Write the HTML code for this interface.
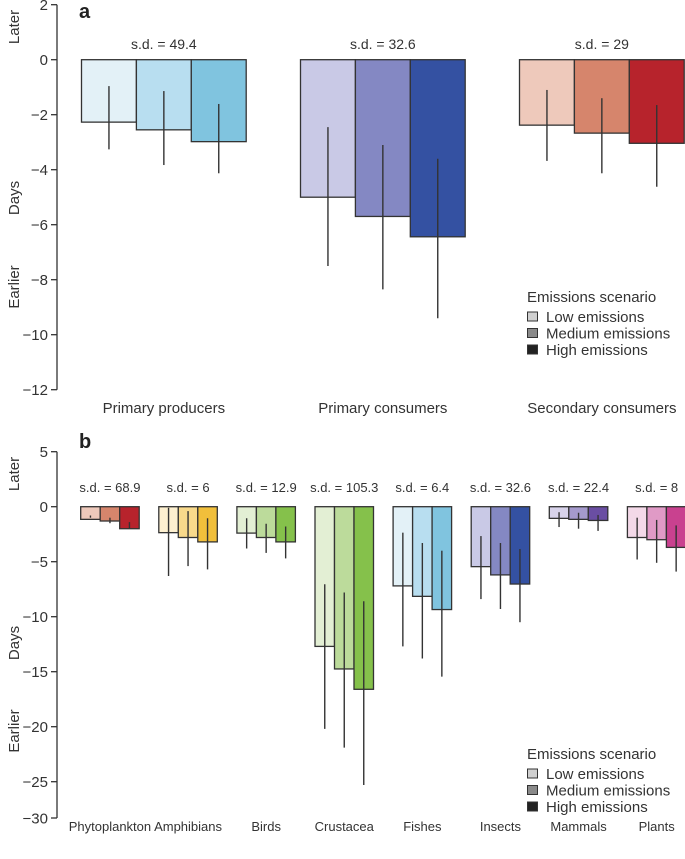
<!DOCTYPE html>
<html><head><meta charset="utf-8"><style>
html,body{margin:0;padding:0;background:#fff;}
svg{display:block;font-family:"Liberation Sans",Arial,sans-serif;}
</style></head><body>
<svg id="chart" width="685" height="859" viewBox="0 0 685 859"></svg>
<script>
// ---- Panel a data ----
const aCategories = ["Primary producers","Primary consumers","Secondary consumers"];
const aSd = ["s.d. = 49.4","s.d. = 32.6","s.d. = 29"];
const aLow = [-2.27,-5.0,-2.38];
const aMed = [-2.55,-5.7,-2.67];
const aHigh = [-2.98,-6.44,-3.04];
const aErrTop = [[-0.96,-1.14,-1.61],[-2.45,-3.1,-3.6],[-1.1,-1.4,-1.65]];
const aErrBot = [[-3.26,-3.83,-4.13],[-7.5,-8.35,-9.4],[-3.68,-4.13,-4.62]];
const aTicks = [2,0,-2,-4,-6,-8,-10,-12];
const aTickLabels = ["2","0","\u22122","\u22124","\u22126","\u22128","\u221210","\u221212"];
const aColors = [["#e3f1f7","#b8def0","#80c4df"],["#c9c9e6","#8488c3","#3451a2"],["#eec9bb","#d6856c","#b7232c"]];

// ---- Panel b data ----
const bCategories = ["Phytoplankton","Amphibians","Birds","Crustacea","Fishes","Insects","Mammals","Plants"];
const bSd = ["s.d. = 68.9","s.d. = 6","s.d. = 12.9","s.d. = 105.3","s.d. = 6.4","s.d. = 32.6","s.d. = 22.4","s.d. = 8"];
const bLow = [-1.15,-2.36,-2.4,-12.7,-7.2,-5.45,-1.06,-2.8];
const bMed = [-1.3,-2.8,-2.8,-14.75,-8.15,-6.2,-1.15,-3.0];
const bHigh = [-2.0,-3.2,-3.2,-16.6,-9.35,-7.03,-1.25,-3.7];
const bErrTop = [[-0.8,-1.0,-1.4],[-0.1,-0.4,-1.05],[-1.05,-1.55,-1.8],[-7.05,-7.8,-8.6],[-2.36,-3.3,-4.0],[-2.67,-3.3,-3.85],[-0.5,-0.55,-0.75],[-1.0,-1.2,-1.7]];
const bErrBot = [[-1.0,-1.5,-2.0],[-6.3,-5.4,-5.7],[-3.8,-4.2,-4.7],[-20.2,-21.9,-25.3],[-12.7,-13.8,-15.45],[-8.4,-9.3,-10.5],[-1.85,-2.0,-2.2],[-4.8,-5.1,-5.9]];
const bTicks = [5,0,-5,-10,-15,-20,-25,-28.3];
const bTickLabels = ["5","0","\u22125","\u221210","\u221215","\u221220","\u221225","\u221230"];
const bColors = [["#eec9bb","#d6856c","#b7232c"],["#fdf0d0","#f8d98b","#f1bf3b"],["#e3efd4","#bcdb9b","#85c14b"],["#e3efd4","#bcdb9b","#85c14b"],["#e3f1f7","#b8def0","#80c4df"],["#c9c9e6","#8488c3","#3451a2"],["#d7d2ea","#a59acd","#6a4ea3"],["#f3d9e8","#e09ac6","#c9418f"]];

const NS="http://www.w3.org/2000/svg";
const svg=document.getElementById('chart');
function mk(tag,attrs,parent,text){const e=document.createElementNS(NS,tag);for(const k in attrs)e.setAttribute(k,attrs[k]);if(text!==undefined)e.textContent=text;(parent||svg).appendChild(e);return e;}

function panel(o){
  const g=mk('g',{});
  
  
  const y=v=>o.y0-v*o.ppu;
  // axis
  const ax=mk('line',{x1:o.axX,x2:o.axX,y1:y(o.ticks[0]),y2:y(o.ticks[o.ticks.length-1]),stroke:'#333','stroke-width':1.3},g);
  
  
  o.ticks.forEach((t,i)=>{
    mk('line',{x1:o.axX-6,x2:o.axX,y1:y(t),y2:y(t),stroke:'#333','stroke-width':1.3},g);
    const tl=mk('text',{x:o.axX-9,y:y(t)+5.5,'text-anchor':'end','font-size':15,fill:'#333'},g,o.tickLabels[i]);
    
    
  });
  // side labels
  [['Later',o.laterY],['Days',o.daysY],['Earlier',o.earlierY]].forEach(([s,yy])=>{
    const t=mk('text',{x:0,y:0,transform:`translate(${o.sideX},${yy}) rotate(-90)`,'text-anchor':'middle','font-size':15,fill:'#333'},g,s);
    
    
  });
  const pl=mk('text',{x:o.axX+22,y:o.letterY,'font-size':20,'font-weight':'bold',fill:'#222'},g,o.letter);
  
  
  o.cats.forEach((c,i)=>{
    const gx=o.x0+i*o.step;
    const vals=[o.low[i],o.med[i],o.high[i]];
    vals.forEach((v,j)=>{
      const bx=gx+j*o.bw;
      const r=mk('rect',{x:bx,y:y(0),width:o.bw,height:y(v)-y(0),fill:o.colors[i][j],stroke:'#333','stroke-width':1.3},g);
      
      
    });
    vals.forEach((v,j)=>{
      const cx=gx+(j+0.5)*o.bw;
      const e=mk('line',{x1:cx,x2:cx,y1:y(o.et[i][j]),y2:y(o.eb[i][j]),stroke:'#333','stroke-width':1.4},g);
      
      
    });
    const sd=mk('text',{x:gx+1.5*o.bw,y:o.sdY,'text-anchor':'middle','font-size':o.sdFs,fill:'#333'},g,o.sd[i]);
    
    
    const cl=mk('text',{x:gx+1.5*o.bw,y:o.catY,'text-anchor':'middle','font-size':o.catFs,fill:'#333'},g,c);
    
    
  });
  // legend
  const lg=mk('g',{},g);
  
  
  mk('text',{x:527,y:o.legY,'font-size':15,fill:'#333'},lg,'Emissions scenario');
  [['Low emissions','#d0d0d0'],['Medium emissions','#8a8a8a'],['High emissions','#222']].forEach(([s,c],k)=>{
    const yy=o.legY+20+k*16.5;
    const sq=mk('rect',{x:527.5,y:yy-10,width:10,height:9,fill:c,stroke:'#333','stroke-width':1},lg);
    
    
    const lt=mk('text',{x:546,y:yy,'font-size':15,fill:'#333'},lg,s);
    
    
  });
}

panel({name:'panel-a',letter:'a',letterY:18,y0:59.7,ppu:27.5,axX:57,ticks:aTicks,tickLabels:aTickLabels,
  sideX:19,laterY:27,daysY:198,earlierY:287,cats:aCategories,sd:aSd,low:aLow,med:aMed,high:aHigh,et:aErrTop,eb:aErrBot,
  colors:aColors,x0:81.5,step:219,bw:54.9,sdY:49,sdFs:14,catY:413,catFs:15,legY:302});
panel({name:'panel-b',letter:'b',letterY:448,y0:506.7,ppu:11,axX:57,ticks:bTicks,tickLabels:bTickLabels,
  sideX:19,laterY:474,daysY:643,earlierY:731,cats:bCategories,sd:bSd,low:bLow,med:bMed,high:bHigh,et:bErrTop,eb:bErrBot,
  colors:bColors,x0:80.7,step:78.1,bw:19.5,sdY:492,sdFs:13,catY:831,catFs:13,legY:759});
</script>
</body></html>
